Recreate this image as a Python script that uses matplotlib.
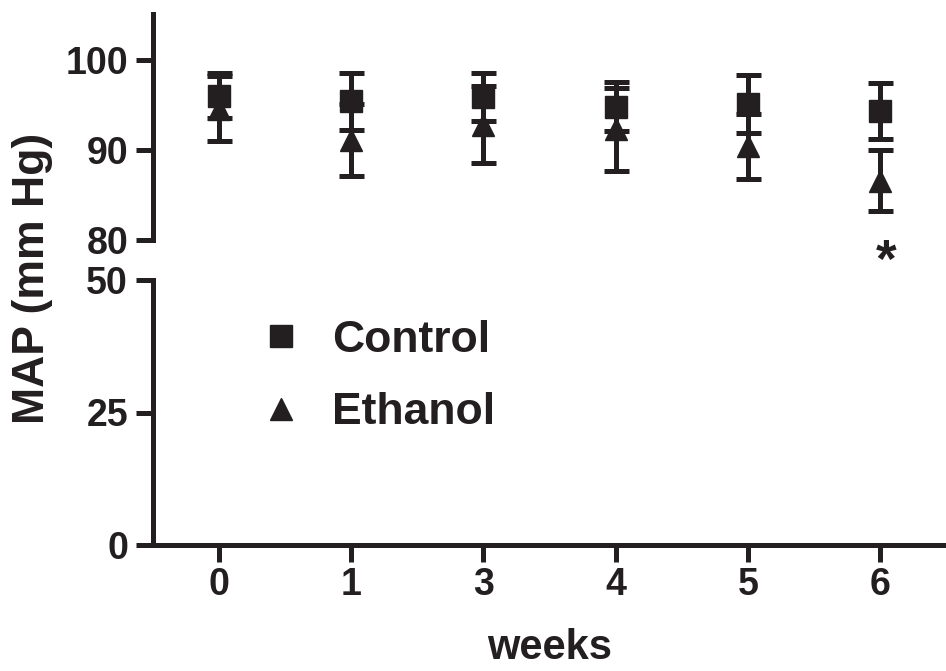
import numpy as np
import matplotlib
matplotlib.use("Agg")
import matplotlib.pyplot as plt
from matplotlib.lines import Line2D

# data (mean +/- SEM, mm Hg)
weeks = ['0', '1', '3', '4', '5', '6']
control_mean = [96.0, 95.4, 95.9, 94.8, 95.1, 94.3]
control_sem = [2.5, 3.2, 2.7, 2.7, 3.2, 3.1]
ethanol_mean = [94.6, 91.1, 92.8, 92.3, 90.4, 86.6]
ethanol_sem = [3.6, 4.0, 4.3, 4.6, 3.6, 3.4]

ink = '#231f20'
plt.rcParams['font.family'] = ['Liberation Sans', 'DejaVu Sans']
plt.rcParams['font.weight'] = 'bold'

fig = plt.figure(figsize=(9.46, 6.71), dpi=100)
W, H = 946, 671
left = 153 / W
ax_top = fig.add_axes([left, 1 - 240 / H, 1 - left, (240 - 14) / H])
ax_bot = fig.add_axes([left, 1 - 545 / H, 1 - left, (545 - 280) / H])

x = np.arange(len(weeks))
lw = 3.6

# break: top panel 80-105, bottom panel 0-50
ax_top.set_ylim(80, 105.1)
ax_top.set_yticks([80, 90, 100])
ax_top.set_xticks([])
ax_bot.set_ylim(0, 50)
ax_bot.set_yticks([0, 25, 50])
ax_bot.set_xticks(x)
ax_bot.set_xticklabels(weeks)

for ax in (ax_top, ax_bot):
    ax.set_xlim(-0.5, 5.5)
    for s in ('top', 'right'):
        ax.spines[s].set_visible(False)
    ax.spines['left'].set_linewidth(lw)
    ax.spines['left'].set_color(ink)
    ax.tick_params(axis='y', length=12, width=lw, color=ink, labelsize=27,
                   labelcolor=ink, pad=6)
    for t in ax.get_yticklabels() + ax.get_xticklabels():
        t.set_fontweight('bold')

ax_top.spines['bottom'].set_visible(False)
ax_bot.spines['bottom'].set_linewidth(lw)
ax_bot.spines['bottom'].set_color(ink)
ax_bot.tick_params(axis='x', length=12, width=lw, color=ink, labelsize=27,
                   labelcolor=ink, pad=4)

eb = dict(fmt='none', ecolor=ink, elinewidth=lw, capsize=9, capthick=lw)
ax_top.errorbar(x, ethanol_mean, yerr=ethanol_sem, **eb)
ax_top.plot(x, ethanol_mean, ls='none', marker='^', ms=16, color=ink)
ax_top.errorbar(x, control_mean, yerr=control_sem, **eb)
ax_top.plot(x, control_mean, ls='none', marker='s', ms=16, color=ink)

# significance mark under week 6
ax_top.text(x[-1] + 0.05, 77.5, '*', ha='center', va='center', fontsize=38,
            fontweight='bold', color=ink, clip_on=False)

ax_bot.set_xlabel('weeks', fontsize=30, fontweight='bold', color=ink, labelpad=18)
fig.text(33 / W, 1 - 278 / H, 'MAP (mm Hg)', rotation=90, ha='center', va='center',
         fontsize=32, fontweight='bold', color=ink)

handles = [Line2D([], [], ls='none', marker='s', ms=16, color=ink),
           Line2D([], [], ls='none', marker='^', ms=16, color=ink)]
leg = ax_bot.legend(handles, ['Control', 'Ethanol'], loc='center left',
                    bbox_to_anchor=(260 / W, 1 - 376.5 / H),
                    bbox_transform=fig.transFigure, frameon=False,
                    fontsize=32, handlelength=0.94, handletextpad=0.68,
                    labelspacing=0.7, borderpad=0, borderaxespad=0)
for t in leg.get_texts():
    t.set_fontweight('bold')
    t.set_color(ink)

fig.savefig('out.png', dpi=100)
